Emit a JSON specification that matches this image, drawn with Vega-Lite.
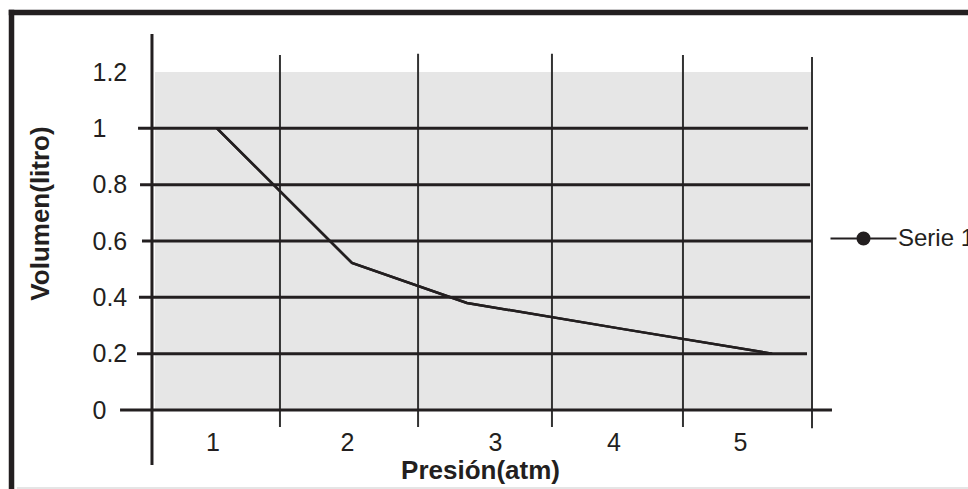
{
  "$schema": "https://vega.github.io/schema/vega-lite/v6.json",
  "width": 657,
  "height": 338,
  "autosize": {"type": "none"},
  "padding": {"left": 155, "top": 72, "right": 156, "bottom": 79},
  "background": "white",
  "config": {
    "view": {"fill": "#e6e6e6", "stroke": null},
    "font": "Liberation Sans"
  },
  "datasets": {
    "frame": [
      {"x1": -0.592, "x2": 7.5, "y1": 1.411, "y2": 1.411},
      {"x1": -0.592, "x2": -0.592, "y1": 1.411, "y2": -0.6}
    ],
    "bottomline": [
      {"x1": -0.55, "x2": 7.5, "y1": -0.277, "y2": -0.277}
    ],
    "hlines": [
      {"v": 1.0, "x1": 0.371, "x2": 5.47},
      {"v": 0.8, "x1": 0.386, "x2": 5.485},
      {"v": 0.6, "x1": 0.401, "x2": 5.5},
      {"v": 0.4, "x1": 0.378, "x2": 5.485},
      {"v": 0.2, "x1": 0.363, "x2": 5.462},
      {"v": 0.0, "x1": 0.234, "x2": 5.652}
    ],
    "vlines": [
      {"p": 1.451, "y1": -0.06, "y2": 1.26},
      {"p": 2.502, "y1": -0.06, "y2": 1.265},
      {"p": 3.521, "y1": -0.06, "y2": 1.265},
      {"p": 4.518, "y1": -0.06, "y2": 1.26},
      {"p": 5.5, "y1": -0.065, "y2": 1.253}
    ],
    "yaxis": [
      {"p": 0.477, "y1": -0.195, "y2": 1.335}
    ],
    "serie": [
      {"presion": 0.972, "volumen": 1.0, "serie": "Serie 1"},
      {"presion": 1.999, "volumen": 0.522, "serie": "Serie 1"},
      {"presion": 2.874, "volumen": 0.38, "serie": "Serie 1"},
      {"presion": 4.054, "volumen": 0.288, "serie": "Serie 1"},
      {"presion": 5.196, "volumen": 0.2, "serie": "Serie 1"}
    ]
  },
  "layer": [
    {
      "data": {"name": "serie"},
      "mark": {"type": "line", "strokeWidth": 2.5, "strokeJoin": "miter"},
      "encoding": {
        "x": {
          "field": "presion", "type": "quantitative",
          "scale": {"domain": [0.5, 5.5], "nice": false, "zero": false},
          "axis": {
            "values": [0.938, 1.961, 3.088, 3.989, 4.952],
            "labelExpr": "'' + round(datum.value)",
            "domain": false, "ticks": false, "tickSize": 0, "grid": false,
            "labelPadding": 20, "labelFontSize": 25, "labelBaseline": "top", "labelColor": "#231f20",
            "labelFont": "Liberation Sans", "labelOverlap": false,
            "title": "Presión(atm)", "titleFont": "Liberation Sans", "titleFontSize": 26, "titleFontWeight": "bold",
            "titleColor": "#231f20", "titleX": 325, "titleY": 68, "titleAlign": "center", "titleBaseline": "alphabetic"
          }
        },
        "y": {
          "field": "volumen", "type": "quantitative",
          "scale": {"domain": [0, 1.2], "nice": false, "zero": false},
          "axis": {
            "values": [0, 0.2, 0.4, 0.6, 0.8, 1, 1.2],
            "labelExpr": "'' + datum.value",
            "domain": false, "ticks": false, "tickSize": 0, "grid": false,
            "labelAlign": "left", "labelPadding": 63, "labelBaseline": "middle", "labelFontSize": 25,
            "labelColor": "#231f20", "labelFont": "Liberation Sans", "labelOverlap": false,
            "title": "Volumen(litro)", "titleFont": "Liberation Sans", "titleFontSize": 26, "titleFontWeight": "bold",
            "titleColor": "#231f20", "titleX": -115, "titleY": 141, "titleAngle": 270, "titleAlign": "center", "titleBaseline": "middle"
          }
        },
        "color": {
          "field": "serie", "type": "nominal",
          "scale": {"domain": ["Serie 1"], "range": ["#231f20"]},
          "legend": {
            "orient": "none", "legendX": 674, "legendY": 132, "title": null, "padding": 0,
            "symbolType": "M-1,0L1,0M0.18,0A0.18,0.18,0,1,1,-0.18,0A0.18,0.18,0,1,1,0.18,0Z",
            "symbolSize": 4356, "symbolStrokeWidth": 2.2,
            "symbolFillColor": "#231f20", "symbolStrokeColor": "#231f20",
            "labelFontSize": 24, "labelOffset": 0, "labelColor": "#231f20", "labelFont": "Liberation Sans",
            "labelLimit": 0,
            "encode": {"symbols": {"update": {"fill": {"value": "#231f20"}, "stroke": {"value": "#231f20"}}}}
          }
        }
      }
    },
    {
      "data": {"name": "frame"},
      "mark": {"type": "rule", "color": "#231f20", "strokeWidth": 5.5, "strokeCap": "square"},
      "encoding": {
        "x": {"field": "x1", "type": "quantitative", "scale": {"domain": [0.5, 5.5], "nice": false, "zero": false}},
        "x2": {"field": "x2"},
        "y": {"field": "y1", "type": "quantitative", "scale": {"domain": [0, 1.2], "nice": false, "zero": false}},
        "y2": {"field": "y2"}
      }
    },
    {
      "data": {"name": "bottomline"},
      "mark": {"type": "rule", "color": "#dcdcdc", "strokeWidth": 1.5},
      "encoding": {
        "x": {"field": "x1", "type": "quantitative", "scale": {"domain": [0.5, 5.5], "nice": false, "zero": false}},
        "x2": {"field": "x2"},
        "y": {"field": "y1", "type": "quantitative", "scale": {"domain": [0, 1.2], "nice": false, "zero": false}},
        "y2": {"field": "y2"}
      }
    },
    {
      "data": {"name": "vlines"},
      "mark": {"type": "rule", "color": "#333333", "strokeWidth": 2},
      "encoding": {
        "x": {"field": "p", "type": "quantitative", "scale": {"domain": [0.5, 5.5], "nice": false, "zero": false}},
        "y": {"field": "y1", "type": "quantitative", "scale": {"domain": [0, 1.2], "nice": false, "zero": false}},
        "y2": {"field": "y2"}
      }
    },
    {
      "data": {"name": "hlines"},
      "mark": {"type": "rule", "color": "#231f20", "strokeWidth": 3},
      "encoding": {
        "x": {"field": "x1", "type": "quantitative", "scale": {"domain": [0.5, 5.5], "nice": false, "zero": false}},
        "x2": {"field": "x2"},
        "y": {"field": "v", "type": "quantitative", "scale": {"domain": [0, 1.2], "nice": false, "zero": false}}
      }
    },
    {
      "data": {"name": "yaxis"},
      "mark": {"type": "rule", "color": "#231f20", "strokeWidth": 3},
      "encoding": {
        "x": {"field": "p", "type": "quantitative", "scale": {"domain": [0.5, 5.5], "nice": false, "zero": false}},
        "y": {"field": "y1", "type": "quantitative", "scale": {"domain": [0, 1.2], "nice": false, "zero": false}},
        "y2": {"field": "y2"}
      }
    },
    {
      "data": {"name": "serie"},
      "mark": {"type": "line", "strokeWidth": 2.5, "strokeJoin": "miter", "color": "#231f20"},
      "encoding": {
        "x": {"field": "presion", "type": "quantitative", "scale": {"domain": [0.5, 5.5], "nice": false, "zero": false}},
        "y": {"field": "volumen", "type": "quantitative", "scale": {"domain": [0, 1.2], "nice": false, "zero": false}}
      }
    }
  ]
}
